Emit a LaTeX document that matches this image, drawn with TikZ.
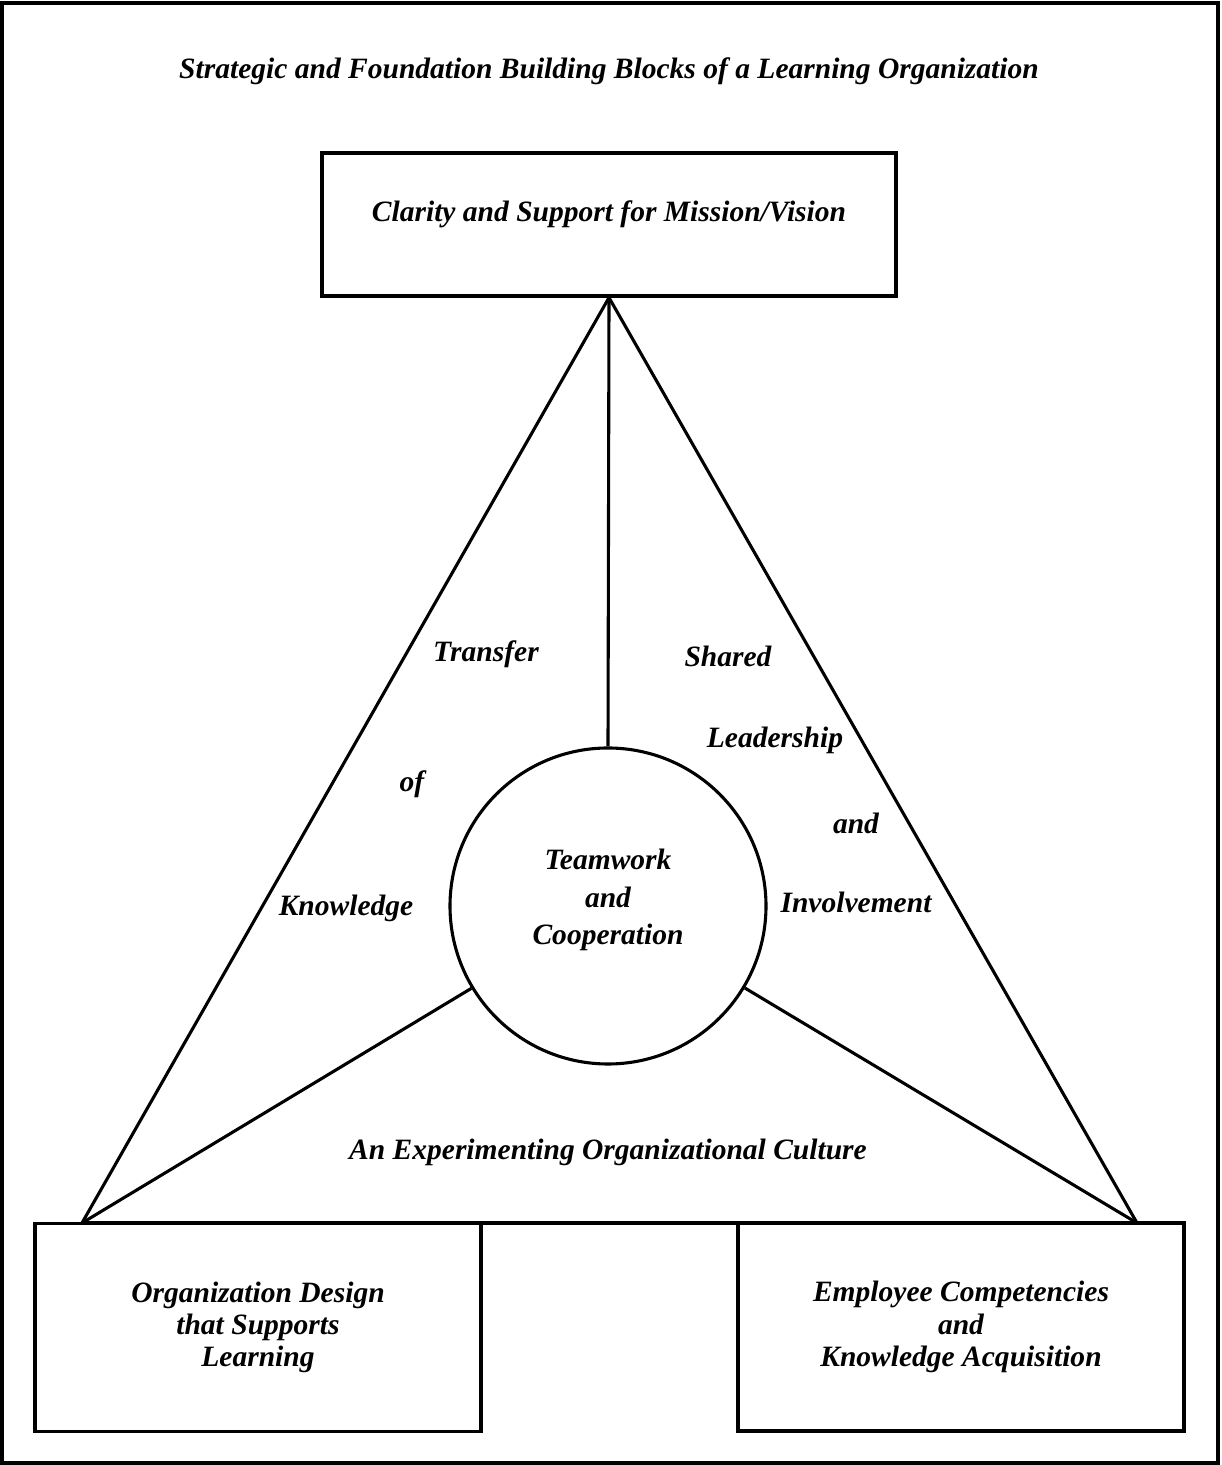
\documentclass[tikz,border=0pt]{standalone}
\usepackage{fontspec}
\setmainfont{Liberation Serif}
\usetikzlibrary{positioning}

\begin{document}
\begin{tikzpicture}[
        block/.style={draw, line width=2.3pt, minimum width=11.15cm, minimum height=5.2cm, align=center,
                    font=\bfseries\itshape\fontsize{21}{23}\selectfont},
        lbl/.style={font=\bfseries\itshape\fontsize{21}{26.5}\selectfont, align=center},
        link/.style={line width=2.2pt}]
        \useasboundingbox (0,0) rectangle (30.525,36.625);
        \draw[line width=2.8pt] (0.06,0.06) rectangle (30.46,36.56);
        \node[lbl] (title) at (15.225,34.85) {Strategic and Foundation Building Blocks of a Learning Organization};
        \node[block, minimum width=14.35cm, minimum height=3.575cm, text depth=0.66cm] (mission) at (15.225,31.0125) {Clarity and Support for Mission/Vision};
        \node[block] (design) at (6.45,3.4375) {Organization Design\\that Supports\\Learning};
        \node[block] (skills) at (24.025,3.45) {Employee Competencies\\and\\Knowledge Acquisition};
        \node[draw, circle, link, minimum size=7.9cm, lbl, text depth=0.45cm] (team) at (15.2,13.975) {Teamwork\\and\\Cooperation};
        \coordinate (lv) at (2.05,6.05);
        \coordinate (rv) at (28.425,6.05);
        \draw[link] (mission.south) -- (team.north);
        \draw[link] (mission.south) -- (lv);
        \draw[link] (mission.south) -- (rv);
        \draw[link] (lv) -- (rv);
        \draw[link] (team) -- (lv);
        \draw[link] (team) -- (rv);
        \node[lbl] (transfer) at (12.15,20.275) {Transfer};
        \node[lbl] (of) at (10.3,17.025) {of};
        \node[lbl] (knowledge) at (8.65,13.925) {Knowledge};
        \node[lbl] (shared) at (18.2,20.225) {Shared};
        \node[lbl] (leadership) at (19.375,18.125) {Leadership};
        \node[lbl] (and) at (21.4,16.05) {and};
        \node[lbl] (involvement) at (21.4,14.075) {Involvement};
        \node[lbl] (culture) at (15.2,7.825) {An Experimenting Organizational Culture};
\end{tikzpicture}
\end{document}
